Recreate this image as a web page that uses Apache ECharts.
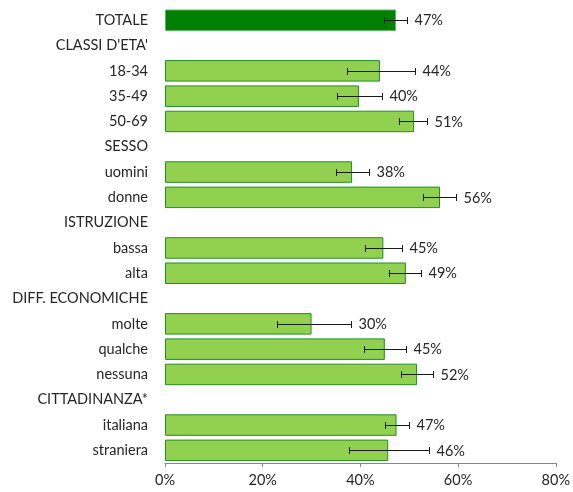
<!DOCTYPE html>
<html>
<head>
<meta charset="utf-8">
<script src="https://cdn.jsdelivr.net/npm/echarts@6/dist/echarts.min.js"></script>
<style>html,body{margin:0;padding:0;background:#fff}#c{width:573px;height:492px}</style>
</head>
<body>
<div id="c"></div>
<script>
const categories = ['TOTALE', "CLASSI D'ETA'", '18-34', '35-49', '50-69', 'SESSO', 'uomini', 'donne', 'ISTRUZIONE', 'bassa', 'alta', 'DIFF. ECONOMICHE', 'molte', 'qualche', 'nessuna', 'CITTADINANZA*', 'italiana', 'straniera'];
const values  = [47.3, null, 44.0, 39.7, 51.0, null, 38.3, 56.3, null, 44.7, 49.3, null, 30.0, 45.0, 51.6, null, 47.4, 45.7];
const errLow  = [44.9, null, 37.2, 35.2, 47.9, null, 35.0, 52.9, null, 40.9, 45.9, null, 23.0, 40.7, 48.3, null, 45.0, 37.7];
const errHigh = [49.6, null, 51.2, 44.5, 53.7, null, 41.8, 59.5, null, 48.5, 52.4, null, 38.0, 49.4, 54.8, null, 50.0, 54.1];
const labels  = ['47%', '', '44%', '40%', '51%', '', '38%', '56%', '', '45%', '49%', '', '30%', '45%', '52%', '', '47%', '46%'];
const xTicks = [0, 20, 40, 60, 80];

const FONT = 'Lato';
const chart = echarts.init(document.getElementById('c'), null, {renderer: 'canvas'});

const barData = values.map((v, i) => {
  if (v === null) return '-';
  if (i === 0) return {value: v, itemStyle: {color: '#008000', borderColor: '#5cb85c', borderWidth: 1}};
  return {value: v};
});

const errData = values.map((v, i) => v === null ? [i, '-', '-', ''] : [i, errLow[i], errHigh[i], labels[i]]);

chart.setOption({
  animation: false,
  grid: {left: 165, right: 17, top: 7.6, bottom: 29, containLabel: false},
  xAxis: {
    type: 'value', min: xTicks[0], max: xTicks[xTicks.length - 1], interval: 20,
    axisLine: {show: true, lineStyle: {color: '#868686', width: 1}},
    axisTick: {show: true, length: 4, lineStyle: {color: '#868686'}},
    splitLine: {show: false},
    axisLabel: {formatter: v => v + '%', fontFamily: FONT, fontSize: 14.5, color: '#262626', margin: 10}
  },
  yAxis: {
    type: 'category', data: categories, inverse: true,
    axisLine: {show: false}, axisTick: {show: false},
    axisLabel: {fontFamily: FONT, fontSize: 14.5, color: '#262626', margin: 17}
  },
  series: [
    {
      type: 'bar', data: barData, barCategoryGap: '15%',
      itemStyle: {color: '#92D050', borderColor: '#1f8f1f', borderWidth: 1}
    },
    {
      type: 'custom',
      data: errData,
      encode: {y: 0, x: [1, 2]},
      renderItem: function (params, api) {
        const lo = api.value(1), hi = api.value(2);
        if (isNaN(lo) || isNaN(hi)) return null;
        const idx = api.value(0);
        const p1 = api.coord([lo, idx]);
        const p2 = api.coord([hi, idx]);
        const y = Math.round(p1[1]) + 0.5;
        const x1 = Math.round(p1[0]) + 0.5, x2 = Math.round(p2[0]) + 0.5;
        const cap = 3.5;
        const st = {stroke: '#1a1a1a', lineWidth: 1};
        return {
          type: 'group',
          children: [
            {type: 'line', shape: {x1: x1, y1: y, x2: x2, y2: y}, style: st},
            {type: 'line', shape: {x1: x1, y1: y - cap, x2: x1, y2: y + cap}, style: st},
            {type: 'line', shape: {x1: x2, y1: y - cap, x2: x2, y2: y + cap}, style: st},
            {type: 'text', style: {text: labels[idx], x: x2 + 7, y: p1[1] + 0.5, textAlign: 'left', textVerticalAlign: 'middle', fontFamily: FONT, fontSize: 14.5, fill: '#262626'}}
          ]
        };
      },
      z: 10
    }
  ]
});
</script>
</body>
</html>
